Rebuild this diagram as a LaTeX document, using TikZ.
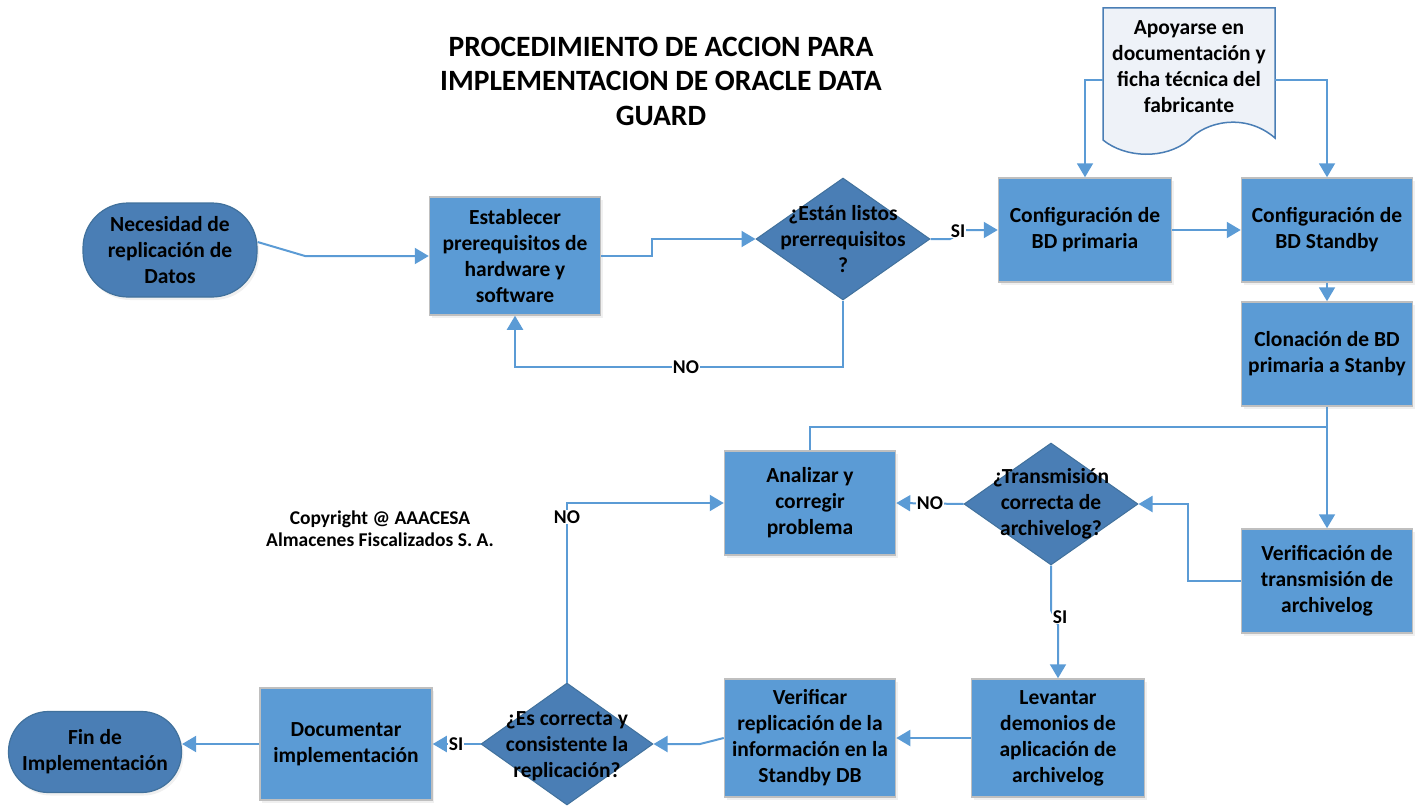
\documentclass[tikz,border=0pt]{standalone}
\usepackage{fontspec}
\setmainfont{Carlito}
\usetikzlibrary{shapes.geometric,arrows.meta,shadows,calc}
\definecolor{boxblue}{HTML}{5B9BD5}
\definecolor{darkblue}{HTML}{4A7EB5}
\definecolor{darkborder}{HTML}{41719C}
\definecolor{boxborder}{HTML}{BFBFBF}
\definecolor{linecol}{HTML}{5B9BD5}
\definecolor{docfill}{HTML}{EEF2F8}
\tikzset{
  base/.style={font=\bfseries\fontsize{21.5}{26}\selectfont, align=center, inner sep=0pt},
  box/.style={base, rectangle, fill=boxblue, draw=boxborder, line width=1.5pt,
    drop shadow={opacity=0.12, shadow xshift=2pt, shadow yshift=-3pt}},
  term/.style={base, rectangle, fill=darkblue, draw=darkborder, line width=1.2pt,
    drop shadow={opacity=0.12, shadow xshift=2pt, shadow yshift=-3pt}},
  decision/.style={diamond, fill=darkblue, draw=darkborder, line width=1pt, inner sep=0pt,
    minimum width=174pt, minimum height=122pt},
  dtext/.style={base},
  conn/.style={draw=linecol, line width=2pt},
  arr/.style={conn, -{Triangle[length=14pt,width=16pt]}},
  lbl/.style={fill=white, inner sep=1pt, font=\bfseries\fontsize{19.5}{22}\selectfont},
}
\begin{document}
\begin{tikzpicture}[x=1pt,y=-1pt]
\path[use as bounding box] (0,0) rectangle (1421,808);
% title
\node[font=\bfseries\fontsize{29.5}{34.5}\selectfont, align=center] (title) at (661,81)
  {PROCEDIMIENTO DE ACCION PARA\\IMPLEMENTACION DE ORACLE DATA\\GUARD};
\node[font=\bfseries\fontsize{19.5}{22}\selectfont, align=center] (copy) at (380,529)
  {Copyright @ AAACESA\\Almacenes Fiscalizados S. A.};
% nodes
\node[term, rounded corners=45pt, minimum width=174pt, minimum height=94pt] (start) at (170,250)
  {Necesidad de\\replicación de\\Datos};
\node[box, minimum width=171pt, minimum height=118pt] (b1) at (515,256)
  {Establecer\\prerequisitos de\\hardware y\\software};
\node[decision] (d1) at (843,239) {};
\node[dtext] at (d1) {¿Están listos\\prerrequisitos\\?};
\node[box, minimum width=173pt, minimum height=104pt] (b2) at (1085,230)
  {Configuración de\\BD primaria};
\node[box, minimum width=171pt, minimum height=104pt] (b3) at (1327,230)
  {Configuración de\\BD Standby};
% document
\draw[fill=docfill, draw=darkblue, line width=1.5pt]
  (1103,8) -- (1275,8) -- (1275,138)
  .. controls (1245,112) and (1205,122) .. (1189,140)
  .. controls (1165,160) and (1125,158) .. (1103,140) -- cycle;
\node[base, minimum width=172pt, minimum height=134pt] (doc) at (1189,67)
  {Apoyarse en\\documentación y\\ficha técnica del\\fabricante};
\node[box, minimum width=171pt, minimum height=104pt] (b4) at (1327,354)
  {Clonación de BD\\primaria a Stanby};
\node[box, minimum width=171pt, minimum height=104pt] (verif) at (1327,581)
  {Verificación de\\transmisión de\\archivelog};
\node[decision] (d2) at (1051,504) {};
\node[dtext] at (d2) {¿Transmisión\\correcta de\\archivelog?};
\node[box, minimum width=171pt, minimum height=104pt] (an) at (810,503)
  {Analizar y\\corregir\\problema};
\node[box, minimum width=173pt, minimum height=118pt] (lev) at (1058,738)
  {Levantar\\demonios de\\aplicación de\\archivelog};
\node[box, minimum width=171pt, minimum height=118pt] (ver) at (810,738)
  {Verificar\\replicación de la\\información en la\\Standby DB};
\node[decision, minimum width=172pt, minimum height=122pt] (d3) at (567,744) {};
\node[dtext] at (567,746) {¿Es correcta y\\consistente la\\replicación?};
\node[box, minimum width=172pt, minimum height=112pt] (docu) at (346,744)
  {Documentar\\implementación};
\node[term, rounded corners=40pt, minimum width=173pt, minimum height=81pt] (fin) at (95,752)
  {Fin de\\Implementación};
% connectors
\coordinate (j1) at (1327,427);
\draw[arr] ([yshift=8pt]start.east) -- (305,256) -- (b1.west);
\draw[arr] (b1.east) -- (652,256) |- (d1.west);
\draw[arr] (d1.south) |- (b1.south |- 0,367) -- (b1.south);
\draw[arr] (d1.east) -- (950,239) -- (966,230) -- (b2.west);
\draw[arr] (b2.east) -- (b3.west);
\draw[arr] (doc.west |- 0,80) -| (b2.north);
\draw[arr] (doc.east |- 0,80) -| (b3.north);
\draw[arr] (b3.south) -- (b4.north);
\draw[arr] (b4.south) -- (verif.north);
\draw[conn] (an.north) |- (j1);
\draw[arr] (verif.west) -- (1188,581) |- (d2.east);
\draw[arr] (d2.west) -- (an.east);
\draw[arr] (d2.south) -- (1051,610) -- (1058,625) -- (lev.north);
\draw[arr] (lev.west) -- (ver.east);
\draw[arr] (ver.west) -- (700,744) -- (d3.east);
\draw[arr] (d3.north) |- (an.west);
\draw[arr] (d3.west) -- (docu.east);
\draw[arr] (docu.west) -- (fin.east |- docu.west);
% labels
\node[lbl] (l1) at (686,367) {NO};
\node[lbl] (l2) at (958,231) {SI};
\node[lbl] (l3) at (930,503) {NO};
\node[lbl] (l4) at (1060,617) {SI};
\node[lbl] (l5) at (567,517) {NO};
\node[lbl] (l6) at (456,744) {SI};
\end{tikzpicture}
\end{document}
